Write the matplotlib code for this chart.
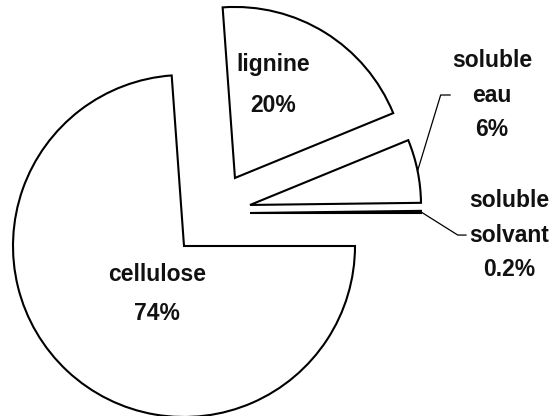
import matplotlib
matplotlib.use("Agg")
import matplotlib.pyplot as plt
import numpy as np

# composition data (counter-clockwise from 3 o'clock)
names = ["soluble\nsolvant", "soluble\neau", "lignine", "cellulose"]
values = [0.2, 6, 20, 74]

# where each wedge tip is moved to (in pie-radius units) and label spots
tips = [(0.386, 0.193), (0.386, 0.240), (0.298, 0.398), (0.0, 0.0)]
label_pos = [(1.901, 0.064), (1.801, 0.883), (0.520, 0.942), (-0.158, -0.281)]
line_gap = [1.63, 1.66, 2.0, 1.9]
face = ["black", "white", "white", "white"]

plt.rcParams["font.family"] = ["Liberation Sans", "DejaVu Sans"]

fig = plt.figure(figsize=(5.5, 4.16), dpi=100)
ax = fig.add_axes([0, 0, 1, 1])

wedges, _ = ax.pie(values, startangle=0, counterclock=True, radius=1,
                   colors=face,
                   wedgeprops=dict(edgecolor="black", linewidth=1.5))
for w, c in zip(wedges, tips):
    w.set_center(c)

for name, v, (x, y), ls in zip(names, values, label_pos, line_gap):
    ax.text(x, y, f"{name}\n{v:g}%", ha="center", va="center",
            fontsize=16.5, fontweight="bold", linespacing=ls, color="#111111")

# leader lines for the two small slices
def arc_point(w, frac):
    a = np.deg2rad(w.theta1 + frac * (w.theta2 - w.theta1))
    cx, cy = w.center
    return cx + w.r * np.cos(a), cy + w.r * np.sin(a)

x0, y0 = arc_point(wedges[1], 0.5)
lx, ly = label_pos[1]
ax.plot([x0, lx - 0.30, lx - 0.245], [y0, ly, ly], color="black", lw=0.9)

x0, y0 = arc_point(wedges[0], 0.5)
lx, ly = label_pos[0]
ax.plot([x0, lx - 0.30, lx - 0.252], [y0, ly, ly], color="black", lw=0.9)

ax.set_xlim(-184 / 171, (550 - 184) / 171)
ax.set_ylim(-(416 - 246) / 171, 246 / 171)
ax.set_aspect("auto")
ax.axis("off")

fig.savefig("out.png", dpi=100)
